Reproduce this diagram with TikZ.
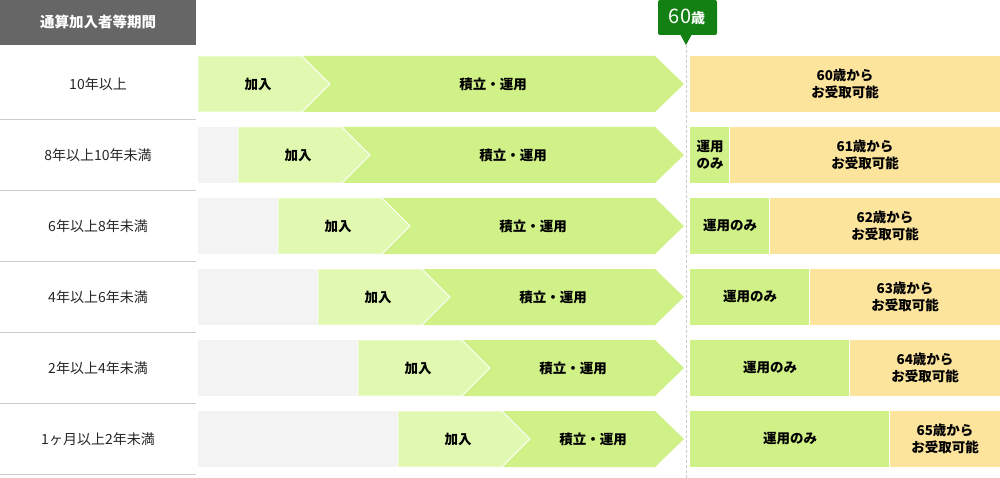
\documentclass[tikz,border=0pt]{standalone}
\usepackage{fontspec}
\setmainfont{Noto Sans CJK JP}
\definecolor{hdr}{HTML}{666666}
\definecolor{lg}{HTML}{E0F8B0}
\definecolor{dg}{HTML}{D0F088}
\definecolor{yl}{HTML}{FDE49C}
\definecolor{gbg}{HTML}{F3F3F3}
\definecolor{badge}{HTML}{128012}
\definecolor{sep}{HTML}{CCCCCC}
\tikzset{lbl/.style={font=\fontsize{14}{16}\selectfont, align=center, text=black!85},
 hl/.style={font=\fontsize{13.5}{17}\selectfont\bfseries, align=center}}
\begin{document}
\begin{tikzpicture}[x=1pt,y=-1pt]
\useasboundingbox (0,0) rectangle (1000,478);
\fill[hdr] (0,0) rectangle (196,45);
\node[hl,text=white,font=\fontsize{14.5}{17}\selectfont\bfseries] (h) at (98,22) {通算加入者等期間};
\draw[sep,densely dashed] (686,45) -- (686,478);
\fill[badge,rounded corners=2pt] (658,0) rectangle (717,35);
\fill[badge] (680,34) -- (692,34) -- (686,45) -- cycle;
\node[font=\fontsize{20}{22}\selectfont,text=white] (b) at (687,17) {60\fontsize{14}{16}\selectfont\bfseries 歳};
\foreach \i/\lab/\age in {0/10年以上/60,1/8年以上10年未満/61,2/6年以上8年未満/62,3/4年以上6年未満/63,4/2年以上4年未満/64,5/1ヶ月以上2年未満/65}{
 \pgfmathsetmacro{\t}{56+71*\i}
 \pgfmathsetmacro{\b}{\t+56}
 \pgfmathsetmacro{\m}{\t+28}
 \pgfmathsetmacro{\ls}{198+40*\i}
 \pgfmathsetmacro{\xa}{302+40*\i}
 \pgfmathsetmacro{\rs}{690+40*\i}
 \draw[sep] (0,\t+63) -- (196,\t+63);
 \node[lbl] (L\i) at (98,\m) {\lab};
 \fill[gbg] (198,\t) rectangle (\ls,\b);
 \fill[dg] (\xa,\t) -- (655,\t) -- (684,\m) -- (655,\b) -- (\xa,\b) -- cycle;
 \filldraw[fill=lg,draw=white,line width=0.8pt] (\ls,\t) -- (\xa,\t) -- (\xa+28,\m) -- (\xa,\b) -- (\ls,\b) -- cycle;
 \node[hl] (K\i) at ({(\ls+\xa)/2+8},\m) {加入};
 \node[hl] (S\i) at ({(\xa+684)/2},\m) {積立・運用};
 \fill[yl] (\rs,\t) rectangle (1000,\b);
 \ifnum\i>0 \fill[dg] (690,\t) rectangle (\rs-1,\b); \fi
 \node[hl] (A\i) at ({(\rs+1000)/2},\m) {\age 歳から\\お受取可能};
}
\node[hl] (U1) at (710,84+71) {運用\\のみ};
\foreach \i in {2,3,4,5}{
 \pgfmathsetmacro{\m}{84+71*\i}
 \node[hl] (U\i) at ({(690+690+40*\i)/2},\m) {運用のみ};
}
\end{tikzpicture}
\end{document}
